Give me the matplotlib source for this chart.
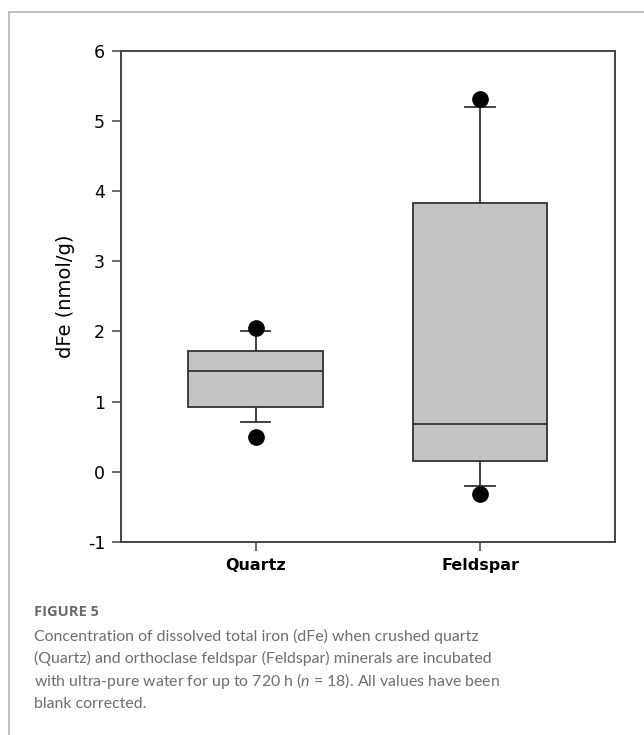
import matplotlib
matplotlib.use("Agg")
import matplotlib.pyplot as plt
from matplotlib.lines import Line2D

plt.rcParams['mathtext.fontset'] = 'custom'
plt.rcParams['mathtext.it'] = 'Lato:italic'
plt.rcParams['mathtext.rm'] = 'Lato'

# box statistics for dissolved iron, nmol/g
minerals = ["Quartz", "Feldspar"]
q1 = [0.92, 0.16]
median = [1.44, 0.68]
q3 = [1.72, 3.83]
whisker_low = [0.71, -0.20]
whisker_high = [2.00, 5.20]
outliers = [[0.49, 2.05], [-0.31, 5.31]]

yticks = [-1, 0, 1, 2, 3, 4, 5, 6]

caption_lines = [
    "Concentration of dissolved total iron (dFe) when crushed quartz",
    "(Quartz) and orthoclase feldspar (Feldspar) minerals are incubated",
    "with ultra-pure water for up to 720 h ($n$ = 18). All values have been",
    "blank corrected.",
]

fig = plt.figure(figsize=(6.44, 7.35), dpi=100)
ax = fig.add_axes([0.1879, 0.2626, 0.7666, 0.6684])

stats = []
for i in range(len(minerals)):
    stats.append(dict(label=minerals[i], q1=q1[i], med=median[i], q3=q3[i],
                      whislo=whisker_low[i], whishi=whisker_high[i],
                      fliers=outliers[i]))

edge = "#333333"
ax.bxp(stats, positions=[1, 2], widths=0.6, capwidths=0.13,
       patch_artist=True, showfliers=True,
       boxprops=dict(facecolor="#c4c4c4", edgecolor=edge, linewidth=1.3),
       medianprops=dict(color=edge, linewidth=1.3),
       whiskerprops=dict(color=edge, linewidth=1.3),
       capprops=dict(color=edge, linewidth=1.3),
       flierprops=dict(marker="o", markerfacecolor="black",
                       markeredgecolor="black", markersize=11))

ax.set_xlim(0.4, 2.6)
ax.set_ylim(-1, 6)
ax.set_yticks(yticks)
ax.set_yticklabels([str(v) for v in yticks], fontsize=12.5)
ax.set_xticks([1, 2])
ax.set_xticklabels(minerals, fontsize=11.5, fontweight="bold")
ax.tick_params(direction="out", length=6.5, width=1.1, color="#444444",
               top=False, right=False)
ax.tick_params(axis="y", pad=5)
ax.tick_params(axis="x", pad=5)
for s in ax.spines.values():
    s.set_color("#444444")
    s.set_linewidth(1.4)
ax.set_ylabel("dFe (nmol/g)", fontsize=14, labelpad=9)

# page frame lines
grey = "#b5b5b5"
fig.add_artist(Line2D([9 / 644, 1.0], [1 - 12 / 735, 1 - 12 / 735],
                      transform=fig.transFigure, color=grey, linewidth=1.2))
fig.add_artist(Line2D([9 / 644, 9 / 644], [0, 1 - 12 / 735],
                      transform=fig.transFigure, color=grey, linewidth=1.2))

fig.text(34 / 644, 1 - 612 / 735, "FIGURE 5", fontsize=10.5, fontweight="bold",
         color="#6a6a6a", family="Open Sans", va="center")
# one text per caption line so the mathtext line keeps the same spacing
for k, line in enumerate(caption_lines):
    fig.text(34 / 644, 1 - (641 + 22.5 * k) / 735, line, fontsize=11.4,
             color="#6e6e6e", family="Lato", va="baseline")

fig.savefig("out.png", dpi=100)
